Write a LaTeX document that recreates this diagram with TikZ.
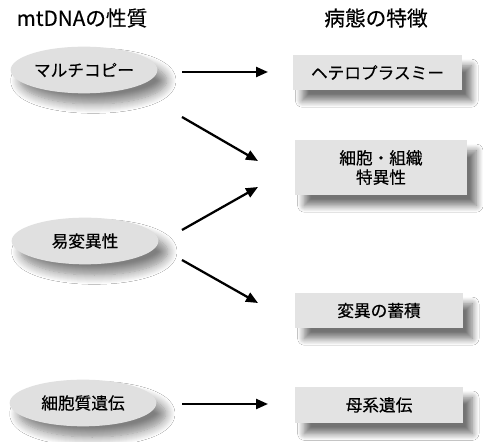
\documentclass[tikz,border=0pt]{standalone}
\usepackage{fontspec}
\setmainfont{Noto Sans CJK JP}
\newfontfamily\medfont[FakeBold=0.4]{Noto Sans CJK JP}
\usetikzlibrary{arrows.meta,shadows.blur,shapes.geometric}
\tikzset{
  ell/.style={ellipse, fill=gray!24, minimum width=110pt, minimum height=35pt, inner sep=0pt,
    blur shadow={shadow xshift=7pt, shadow yshift=-8pt, shadow opacity=50, shadow blur steps=10, shadow blur radius=7pt}},
  box/.style={rectangle, fill=gray!22, inner sep=0pt, align=center,
    blur shadow={shadow xshift=7pt, shadow yshift=-8pt, shadow opacity=55, shadow blur steps=10, shadow blur radius=5pt}},
  ttl/.style={font=\medfont\fontsize{15.5pt}{18pt}\selectfont},
  lbl/.style={font=\medfont\fontsize{12.5pt}{14.5pt}\selectfont},
  arr/.style={line width=1.7pt, -{Triangle[length=9pt,width=7.5pt]}}
}
\begin{document}
\begin{tikzpicture}[x=0.75pt,y=-0.75pt]
\useasboundingbox (0,0) rectangle (483,442);
\fill[white] (0,0) rectangle (483,442);
% titles
\node[ttl] (t1) at (82,18) {mtDNAの性質};
\node[ttl] (t2) at (376,18) {病態の特徴};
% left ellipses
\node[ell,lbl] (e1) at (84,70) {マルチコピー};
\node[ell,lbl] (e2) at (85,241) {易変異性};
\node[ell,lbl] (e3) at (83,403) {細胞質遺伝};
% right boxes
\node[box,lbl,minimum width=127pt,minimum height=26pt] (r1) at (377.5,72.5) {ヘテロプラスミー};
\node[box,lbl,minimum width=129pt,minimum height=41pt] (r2) at (381,167.5) {細胞・組織\\特異性};
\node[box,lbl,minimum width=126pt,minimum height=26pt] (r3) at (379,310.5) {変異の蓄積};
\node[box,lbl,minimum width=126pt,minimum height=27pt] (r4) at (379,405) {母系遺伝};
% arrow end points
\coordinate (a1s) at (182,72);  \coordinate (a1e) at (268,72);
\coordinate (a2s) at (182,117); \coordinate (a2e) at (258,161);
\coordinate (a3s) at (182,230); \coordinate (a3e) at (258,187);
\coordinate (a4s) at (182,260); \coordinate (a4e) at (258,303);
\coordinate (a5s) at (182,404); \coordinate (a5e) at (268,404);
\draw[arr] (a1s) -- (a1e);
\draw[arr] (a2s) -- (a2e);
\draw[arr] (a3s) -- (a3e);
\draw[arr] (a4s) -- (a4e);
\draw[arr] (a5s) -- (a5e);
\end{tikzpicture}
\end{document}
